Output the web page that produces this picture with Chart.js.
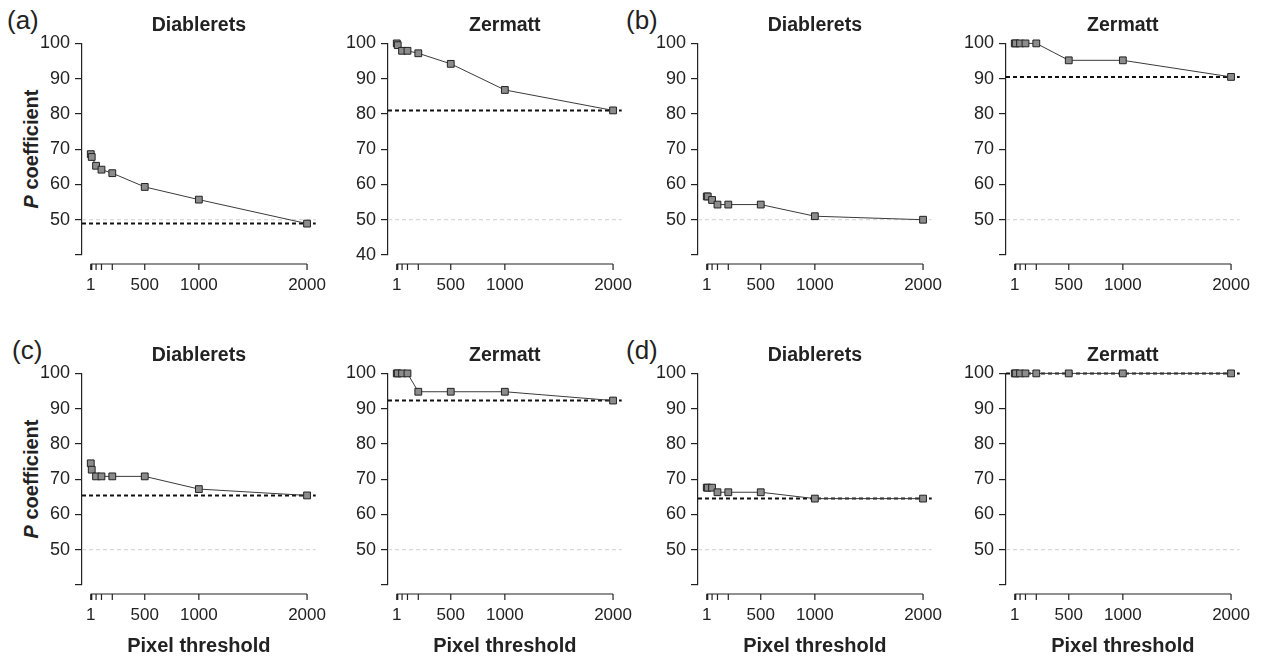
<!DOCTYPE html>
<html>
<head>
<meta charset="utf-8">
<script src="https://cdn.jsdelivr.net/npm/chart.js@4.4.0/dist/chart.umd.min.js"></script>
<style>
  body { margin: 0; background: #fff; width: 1263px; height: 658px; overflow: hidden; position: relative;
         font-family: "Liberation Sans", Arial, sans-serif; color: #222; }
  canvas { position: absolute; }
  .letter { position: absolute; font-size: 26px; line-height: 1; }
  .ytitle { position: absolute; font-size: 20px; font-weight: bold; white-space: nowrap;
            transform: translate(-50%, -50%) rotate(-90deg); }
</style>
</head>
<body>
<div class="letter" style="left:7px; top:7px">(a)</div>
<div class="letter" style="left:626px; top:7px">(b)</div>
<div class="letter" style="left:12px; top:337px">(c)</div>
<div class="letter" style="left:626px; top:337px">(d)</div>
<div class="ytitle" style="left:31px; top:149px"><i>P</i> coefficient</div>
<div class="ytitle" style="left:31px; top:479px"><i>P</i> coefficient</div>

<script>
// pixel thresholds tested
const thresholds = [1, 10, 50, 100, 200, 500, 1000, 2000];
const xTickValues = [1, 10, 50, 100, 200, 500, 1000, 2000];
const xTickLabels = ['1', '500', '1000', '2000'];
const yTickValues = [40, 50, 60, 70, 80, 90, 100];
const sites = ['Diablerets', 'Zermatt'];

// P coefficient per panel
const aDiablerets = [68.6, 67.8, 65.3, 64.2, 63.2, 59.3, 55.7, 48.9];
const aZermatt = [100, 99.5, 97.9, 97.9, 97.2, 94.2, 86.8, 81.0];
const bDiablerets = [56.6, 56.6, 55.6, 54.3, 54.3, 54.3, 51.0, 50.0];
const bZermatt = [100, 100, 100, 100, 100, 95.2, 95.2, 90.5];
const cDiablerets = [74.5, 72.7, 70.8, 70.8, 70.8, 70.8, 67.2, 65.4];
const cZermatt = [100, 100, 100, 100, 94.8, 94.8, 94.8, 92.3];
const dDiablerets = [67.6, 67.6, 67.6, 66.3, 66.3, 66.3, 64.5, 64.5];
const dZermatt = [100, 100, 100, 100, 100, 100, 100, 100];

const seriesList = [aDiablerets, aZermatt, bDiablerets, bZermatt, cDiablerets, cZermatt, dDiablerets, dZermatt];
const referenceValues = [48.9, 81.0, null, 90.5, 65.4, 92.3, 64.5, 100];
const chanceLevel = 50;
const showFortyLabel = [false, true, false, false, false, false, false, false];

// layout
const axisX = [82, 388, 697.7, 1005.7];
const rowTop = [0, 330];
const plotW = 233.7;
const yAxisW = 62;
const padRight = 14;

const font = '"Liberation Sans", Arial, sans-serif';
const ink = '#222';

// R style axes: offset x axis, dashed guides
const rAxisPlugin = {
  id: 'rAxis',
  beforeDatasetsDraw(chart, args, opts) {
    const { ctx, chartArea, scales: { y } } = chart;
    ctx.save();
    ctx.setLineDash([4, 3]);
    ctx.strokeStyle = '#cfcfcf';
    ctx.lineWidth = 1;
    let py = y.getPixelForValue(chanceLevel);
    ctx.beginPath();
    ctx.moveTo(chartArea.left, py);
    ctx.lineTo(chartArea.right, py);
    ctx.stroke();
    if (opts.ref != null) {
      ctx.setLineDash([4, 3]);
      ctx.strokeStyle = '#111';
      ctx.lineWidth = 2;
      py = y.getPixelForValue(opts.ref);
      ctx.beginPath();
      ctx.moveTo(chartArea.left, py);
      ctx.lineTo(chartArea.right, py);
      ctx.stroke();
    }
    ctx.restore();
  },
  afterDraw(chart) {
    const { ctx, chartArea, scales: { x } } = chart;
    const ay = chartArea.bottom + 9;
    ctx.save();
    ctx.strokeStyle = ink;
    ctx.lineWidth = 1.2;
    ctx.beginPath();
    ctx.moveTo(x.getPixelForValue(xTickValues[0]), ay);
    ctx.lineTo(x.getPixelForValue(xTickValues[xTickValues.length - 1]), ay);
    xTickValues.forEach(v => {
      const px = x.getPixelForValue(v);
      ctx.moveTo(px, ay);
      ctx.lineTo(px, ay + 6);
    });
    ctx.stroke();
    ctx.restore();
  }
};

seriesList.forEach((series, i) => {
  const row = Math.floor(i / 4);
  const col = i % 4;
  const canvas = document.createElement('canvas');
  const w = Math.round(yAxisW + plotW + padRight);
  const h = row === 0 ? 300 : 328;
  canvas.width = w;
  canvas.height = h;
  canvas.style.left = (axisX[col] - yAxisW) + 'px';
  canvas.style.top = rowTop[row] + 'px';
  document.body.appendChild(canvas);

  new Chart(canvas, {
    type: 'line',
    data: {
      datasets: [{
        data: thresholds.map((t, j) => ({ x: t, y: series[j] })),
        borderColor: '#3a3a3a',
        borderWidth: 1,
        pointStyle: 'rect',
        pointRadius: 4.8,
        pointBackgroundColor: '#8c8c8c',
        pointBorderColor: ink,
        pointBorderWidth: 1,
        tension: 0,
        clip: false
      }]
    },
    options: {
      responsive: false,
      animation: false,
      layout: { padding: { top: 0, right: w - yAxisW - plotW, bottom: 0, left: 0 } },
      plugins: {
        legend: { display: false },
        tooltip: { enabled: false },
        title: {
          display: true,
          text: sites[i % 2],
          fullSize: false,
          color: ink,
          font: { family: font, size: 19.5, weight: 'bold' },
          padding: { top: 14, bottom: 6 }
        },
        rAxis: { ref: referenceValues[i] }
      },
      scales: {
        x: {
          type: 'linear',
          min: -80,
          max: 2080,
          afterBuildTicks: s => { s.ticks = xTickValues.map(v => ({ value: v })); },
          afterFit: s => {
            s.height = row === 0 ? 45 : 73;
            s.paddingLeft = 0;
            s.paddingRight = 0;
          },
          grid: { display: false, drawTicks: false },
          border: { display: false },
          ticks: {
            autoSkip: false,
            maxRotation: 0,
            minRotation: 0,
            padding: 20,
            color: ink,
            font: { family: font, size: 17 },
            callback: v => xTickLabels.includes(String(v)) ? String(v) : ''
          },
          title: {
            display: row === 1,
            text: 'Pixel threshold',
            color: ink,
            font: { family: font, size: 20, weight: 'bold' },
            padding: { top: 0, bottom: 0 }
          }
        },
        y: {
          min: 40,
          max: 100,
          afterBuildTicks: s => { s.ticks = yTickValues.map(v => ({ value: v })); },
          afterFit: s => { s.width = yAxisW; },
          grid: { drawOnChartArea: false, drawTicks: true, tickLength: 7, color: ink, lineWidth: 1.2 },
          border: { display: true, color: ink, width: 1.2 },
          ticks: {
            padding: 5,
            color: ink,
            font: { family: font, size: 18 },
            callback: v => (v === 40 && !showFortyLabel[i]) ? '' : String(v)
          }
        }
      }
    },
    plugins: [rAxisPlugin]
  });
});
</script>
</body>
</html>
